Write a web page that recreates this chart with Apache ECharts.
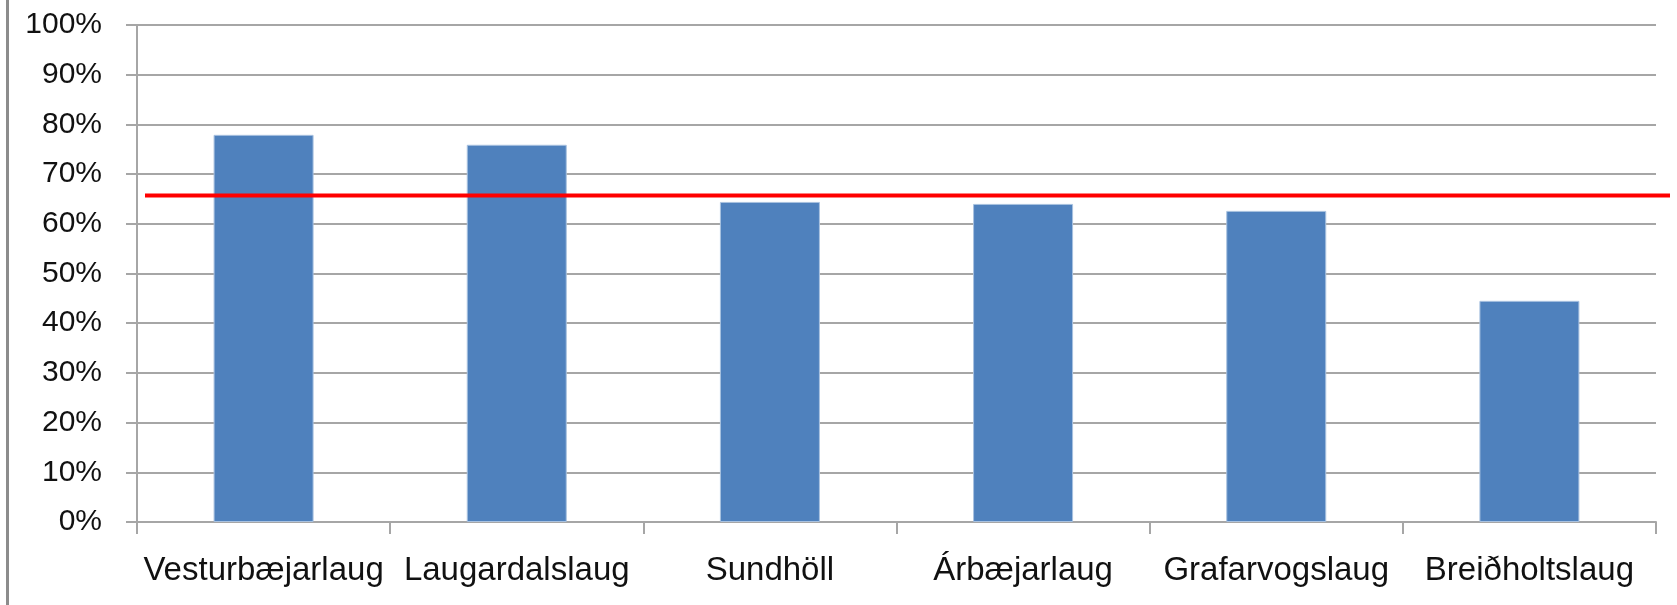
<!DOCTYPE html>
<html>
<head>
<meta charset="utf-8">
<style>
  html, body { margin: 0; padding: 0; background: #fff; }
  #chart { width: 1677px; height: 605px; }
</style>
<script src="https://cdn.jsdelivr.net/npm/echarts@6/dist/echarts.min.js"></script>
</head>
<body>
<div id="chart"></div>
<script>
// pools and their share (%)
const pools = ['Vesturbæjarlaug', 'Laugardalslaug', 'Sundhöll', 'Árbæjarlaug', 'Grafarvogslaug', 'Breiðholtslaug']
const shares = [77.9, 75.9, 64.4, 64.0, 62.6, 44.5]
// red reference line
const threshold = 65.7
const yTicks = [0, 10, 20, 30, 40, 50, 60, 70, 80, 90, 100]

const gridColor = '#a6a6a6'
const font = '"Liberation Sans", Arial, sans-serif'

const chart = echarts.init(document.getElementById('chart'))

chart.setOption({
  animation: false,
  graphic: [
    {
      type: 'rect',
      left: 6,
      top: 0,
      shape: { width: 3, height: 605 },
      style: { fill: '#8c8c8c' }
    }
  ],
  grid: [
    { left: 137, right: 21, top: 25, bottom: 83 },
    { left: 145, right: 7, top: 25, bottom: 83 }
  ],
  xAxis: [
    {
      type: 'category',
      gridIndex: 0,
      data: pools,
      axisLine: { lineStyle: { color: gridColor, width: 2 } },
      axisTick: { show: true, length: 12, lineStyle: { color: gridColor, width: 2 } },
      axisLabel: {
        color: '#111',
        fontFamily: font,
        fontSize: 33,
        margin: 32,
        interval: 0
      }
    },
    { type: 'value', gridIndex: 1, min: 0, max: 1, show: false }
  ],
  yAxis: [
    {
      type: 'value',
      gridIndex: 0,
      min: yTicks[0],
      max: yTicks[yTicks.length - 1],
      interval: 10,
      axisLine: { show: true, lineStyle: { color: gridColor, width: 2 } },
      axisTick: { show: true, length: 11, lineStyle: { color: gridColor, width: 2 } },
      splitLine: { lineStyle: { color: gridColor, width: 2 } },
      axisLabel: {
        color: '#111',
        fontFamily: font,
        fontSize: 30,
        margin: 35,
        formatter: v => v + '%'
      }
    },
    { type: 'value', gridIndex: 1, min: 0, max: 100, show: false }
  ],
  series: [
    {
      type: 'bar',
      xAxisIndex: 0,
      yAxisIndex: 0,
      data: shares,
      barWidth: 100,
      itemStyle: {
        color: '#4f81bd',
        borderColor: '#a9c2e0',
        borderWidth: 1
      },
      z: 2
    },
    {
      type: 'line',
      xAxisIndex: 1,
      yAxisIndex: 1,
      data: [[0, threshold], [1, threshold]],
      symbol: 'none',
      lineStyle: { color: '#ff0000', width: 4 },
      z: 5
    }
  ]
})
</script>
</body>
</html>
